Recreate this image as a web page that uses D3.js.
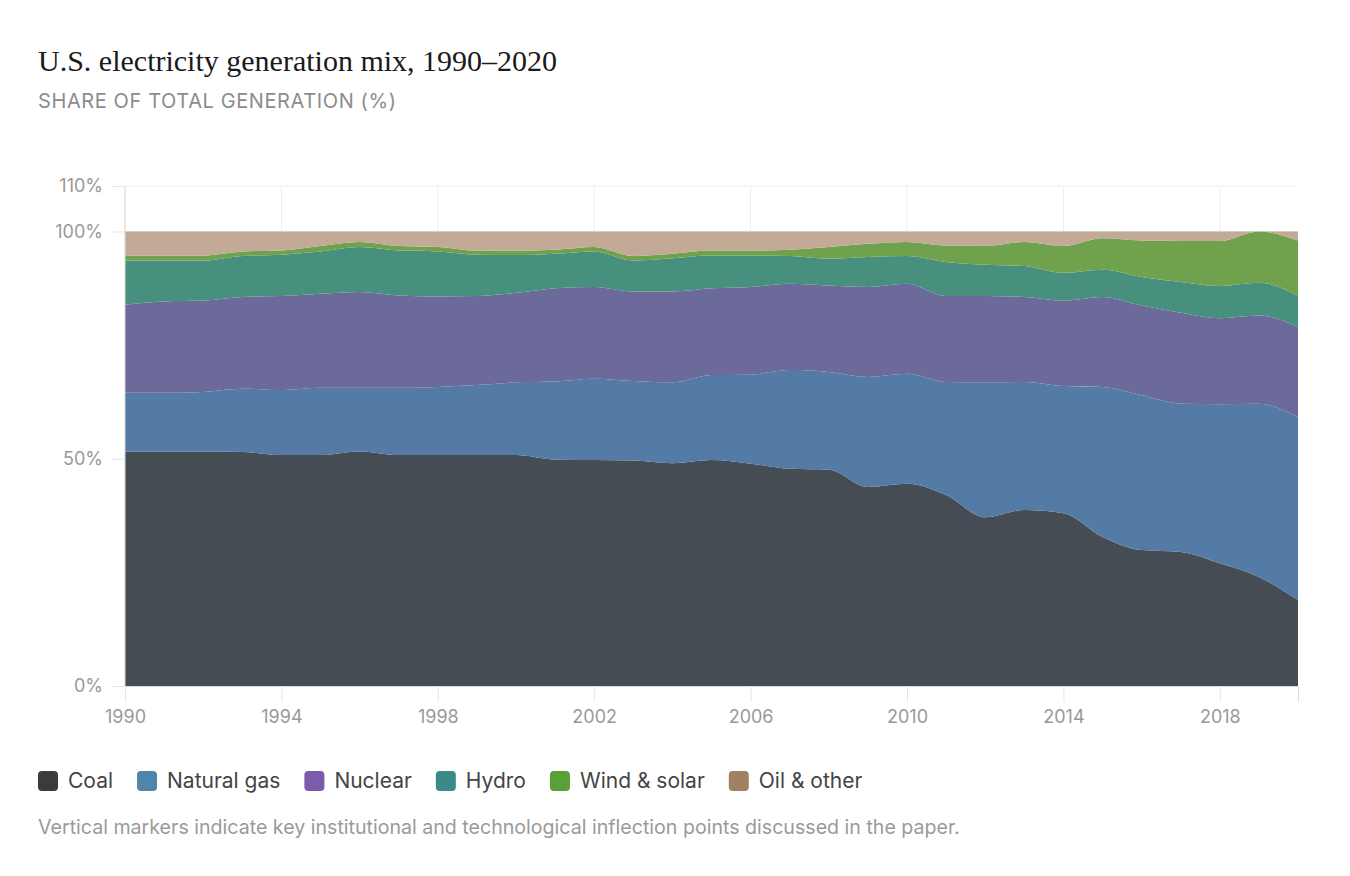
<!DOCTYPE html>
<html>
<head>
<meta charset="utf-8">
<script src="https://cdn.jsdelivr.net/npm/d3@7"></script>
<style>
  body { margin: 0; background: #fff; }
  svg { display: block; }
</style>
</head>
<body>
<svg id="chart" width="1350" height="876"></svg>
<script>
// years and share of generation (%) per source
const years = d3.range(1990, 2021);
const coal    = [51.6,51.6,51.6,51.5,50.8,50.8,51.6,50.8,50.8,50.8,50.8,49.8,49.7,49.6,49.0,49.7,48.9,47.8,47.6,43.8,44.5,42.0,37.1,38.7,38.0,32.8,29.9,29.5,27.0,24.0,18.9];
const gas     = [12.9,12.9,13.1,13.9,14.3,14.8,14.0,14.8,15.0,15.4,16.0,17.2,17.9,17.5,17.8,18.7,19.6,21.7,21.5,24.2,24.2,24.9,29.7,28.2,28.0,33.0,34.1,32.6,35.0,38.1,40.3];
const nuclear = [19.4,20.1,20.1,20.2,20.7,20.7,21.1,20.3,19.9,19.6,19.7,20.5,20.2,19.7,20.0,19.1,19.3,19.0,19.0,19.8,19.8,18.9,19.0,18.7,18.8,19.8,19.7,20.0,18.9,19.4,19.8];
const hydro   = [9.7,9.0,8.8,9.0,9.1,9.3,9.9,9.9,9.9,9.1,8.3,7.6,7.8,6.8,7.3,7.2,6.9,6.1,5.9,6.6,6.1,7.5,6.9,6.8,6.1,6.0,6.3,6.8,7.1,7.2,6.9];
const wind    = [1.1,1.1,1.1,1.0,0.9,1.2,1.1,1.0,1.0,0.9,1.0,0.9,1.0,1.0,1.0,1.1,1.1,1.4,2.6,2.9,3.1,3.6,4.1,5.3,5.9,6.9,8.0,9.0,9.9,11.3,12.1];
const oil     = [5.3,5.3,5.3,4.4,4.2,3.2,2.3,3.2,3.4,4.2,4.2,4.0,3.4,5.4,4.9,4.2,4.2,4.0,3.4,2.7,2.3,3.1,3.2,2.3,3.2,1.5,2.0,2.1,2.1,0.0,2.0];

const keys = ['coal','gas','nuclear','hydro','wind','oil'];
const labels = ['Coal','Natural gas','Nuclear','Hydro','Wind & solar','Oil & other'];
const areaColors = ['#454c54','#537ba5','#6c6a9a','#47907e','#70a24d','#c2aa97'];
const swatchColors = ['#3b3c39','#4f84ad','#7b5caa','#3a8b87','#5b9e3a','#a08262'];
const xTicks = [1990,1994,1998,2002,2006,2010,2014,2018];
const yTicks = [0,50,100,110];

const rows = years.map((y, i) => ({
  year: y, coal: coal[i], gas: gas[i], nuclear: nuclear[i],
  hydro: hydro[i], wind: wind[i], oil: oil[i]
}));

const svg = d3.select('#chart');
const sans = 'Inter, "DejaVu Sans", sans-serif';

// titles
svg.append('text')
  .attr('x', 38).attr('y', 71)
  .attr('font-family', '"Liberation Serif", serif')
  .attr('font-size', 30)
  .attr('fill', '#1a1a1a')
  .text('U.S. electricity generation mix, 1990–2020');

svg.append('text')
  .attr('x', 38).attr('y', 108)
  .attr('font-family', sans)
  .attr('font-size', 20)
  .attr('fill', '#8c8c8c')
  .attr('letter-spacing', 0.6)
  .text('SHARE OF TOTAL GENERATION (%)');

const x = d3.scaleLinear().domain([1990, 2020]).range([125, 1298]);
const y = d3.scaleLinear().domain([0, 110]).range([686, 186]);

// grid
svg.append('g').selectAll('line')
  .data(xTicks)
  .enter().append('line')
  .attr('x1', d => x(d)).attr('x2', d => x(d))
  .attr('y1', y(110)).attr('y2', y(0))
  .attr('stroke', '#eeeeee');

svg.append('g').selectAll('line')
  .data(yTicks)
  .enter().append('line')
  .attr('x1', x(1990)).attr('x2', x(2020))
  .attr('y1', d => y(d)).attr('y2', d => y(d))
  .attr('stroke', '#eeeeee');

// stacked areas
const series = d3.stack().keys(keys)(rows);
const area = d3.area()
  .x(d => x(d.data.year))
  .y0(d => y(d[0]))
  .y1(d => y(d[1]))
  .curve(d3.curveMonotoneX);

svg.append('g').selectAll('path')
  .data(series)
  .enter().append('path')
  .attr('d', area)
  .attr('fill', (d, i) => areaColors[i]);

// axes
const xAxis = svg.append('g')
  .attr('transform', 'translate(0,' + y(0) + ')')
  .call(d3.axisBottom(x).tickValues(xTicks).tickFormat(d3.format('d')).tickSize(16).tickPadding(8));
const yAxis = svg.append('g')
  .attr('transform', 'translate(' + x(1990) + ',0)')
  .call(d3.axisLeft(y).tickValues(yTicks).tickFormat(d => d + '%').tickSize(14).tickPadding(8));

[xAxis, yAxis].forEach(a => {
  a.select('.domain').attr('stroke', '#dcdcdc');
  a.selectAll('.tick line').attr('stroke', '#e6e6e6');
  a.selectAll('.tick text')
    .attr('fill', '#999')
    .attr('font-family', sans)
    .attr('font-size', 18);
});
yAxis.select('.domain').attr('d', 'M0,' + y(110) + 'V' + y(0));

// legend
const legend = svg.append('g').attr('transform', 'translate(38,781)');
let lx = 0;
labels.forEach((lab, i) => {
  const g = legend.append('g').attr('transform', 'translate(' + lx + ',0)');
  g.append('rect')
    .attr('x', 0).attr('y', -10)
    .attr('width', 20).attr('height', 20)
    .attr('rx', 4)
    .attr('fill', swatchColors[i]);
  const t = g.append('text')
    .attr('x', 30).attr('y', 7)
    .attr('font-family', sans)
    .attr('font-size', 21)
    .attr('fill', '#444')
    .text(lab);
  lx += 30 + t.node().getComputedTextLength() + 24;
});

svg.append('text')
  .attr('x', 38).attr('y', 834)
  .attr('font-family', sans)
  .attr('font-size', 19.6)
  .attr('fill', '#9a9a9a')
  .text('Vertical markers indicate key institutional and technological inflection points discussed in the paper.');
</script>
</body>
</html>
